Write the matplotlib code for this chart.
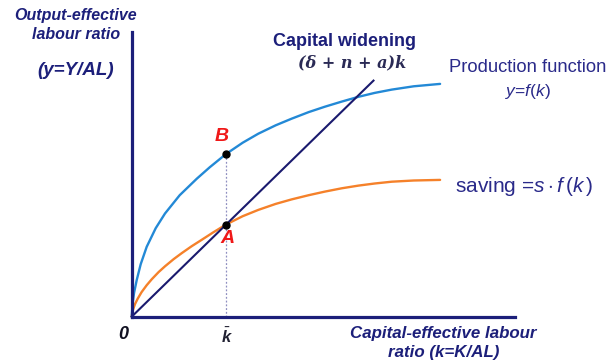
import matplotlib
matplotlib.use("Agg")
import matplotlib.pyplot as plt

plt.rcParams['mathtext.fontset'] = 'custom'
plt.rcParams['mathtext.rm'] = 'Liberation Sans'
plt.rcParams['mathtext.it'] = 'Liberation Sans:italic'
plt.rcParams['mathtext.bf'] = 'Liberation Sans:bold:italic'

# data (k = capital per effective worker)
prod_k = [0, 0.03, 0.08, 0.167, 0.3, 0.5, 0.8, 1.11, 1.6, 2.17, 2.6, 3.14, 3.7,
          4.22, 4.8, 5.33, 5.9, 6.44, 7.0, 7.56, 8.1, 8.67, 9.4, 10.28]
prod_vals = [0, 0.45, 0.8, 1.22, 1.75, 2.33, 2.95, 3.44, 4.05, 4.6, 4.98, 5.42, 5.8,
             6.1, 6.38, 6.6, 6.82, 7.0, 7.17, 7.33, 7.46, 7.57, 7.68, 7.76]
saving_k = [0, 0.03, 0.11, 0.2, 0.33, 0.5, 0.67, 0.9, 1.11, 1.4, 1.67, 2.0, 2.33, 2.7,
            3.14, 3.7, 4.22, 4.8, 5.33, 5.9, 6.44, 7.0, 7.56, 8.1, 8.67, 9.4, 10.28]
saving_vals = [0, 0.2, 0.42, 0.6, 0.82, 1.05, 1.25, 1.49, 1.68, 1.92, 2.12, 2.35, 2.56,
               2.8, 3.07, 3.35, 3.56, 3.76, 3.91, 4.05, 4.17, 4.28, 4.37, 4.44, 4.5,
               4.54, 4.56]
widen_k = [0, 8.06]
widen_y = [0, 7.87]
k_bar = 3.14
point_B = 5.42
point_A = 3.07
x_axis_end = 12.78
y_axis_end = 9.49

NAVY = '#1c1f7a'
BLUE = '#2389d6'
ORANGE = '#f5812a'
RED = '#f01818'

fig = plt.figure(figsize=(6.08, 3.64), dpi=100)
ax = fig.add_axes([0, 0, 1, 1])
ax.set_xlim(-131.7 / 30, (608 - 131.7) / 30)
ax.set_ylim(-(364 - 316.7) / 30, 316.7 / 30)

for s in ['top', 'right']:
    ax.spines[s].set_visible(False)
ax.spines['left'].set_position(('data', 0))
ax.spines['bottom'].set_position(('data', 0))
ax.spines['left'].set_bounds(0, y_axis_end)
ax.spines['bottom'].set_bounds(0, x_axis_end)
for s in ['left', 'bottom']:
    ax.spines[s].set_color(NAVY)
    ax.spines[s].set_linewidth(2.3)
ax.set_xticks([])
ax.set_yticks([])
ax.patch.set_alpha(0)

ax.plot(prod_k, prod_vals, color=BLUE, lw=1.7, solid_capstyle='round', solid_joinstyle='round')
ax.plot(saving_k, saving_vals, color=ORANGE, lw=1.7, solid_capstyle='round', solid_joinstyle='round')
ax.plot(widen_k, widen_y, color='#1a1a6e', lw=1.5)
ax.plot([k_bar, k_bar], [0, point_B], color='#8f8fc0', lw=0.9, ls=(0, (1.5, 1.5)))
ax.plot([k_bar, k_bar], [point_B, point_A], 'o', color='black', ms=5)

fs_b = dict(family='Liberation Sans', weight='bold', style='italic', color=NAVY)
ax.text(-1.86, 9.72, 'Output-effective\nlabour ratio', ha='center', va='center',
        fontsize=11.5, linespacing=1.4, **fs_b)
ax.text(-1.86, 8.2, '(y=Y/AL)', ha='center', va='center', fontsize=13.5, **fs_b)

ax.text(7.08, 9.17, 'Capital widening', ha='center', va='center', fontsize=13,
        family='Liberation Sans', weight='bold', color=NAVY)
ax.text(7.35, 8.45, '(δ + n + a)k', ha='center', va='center', fontsize=11.5,
        family='DejaVu Serif', weight='bold', style='italic', color='#2a2a55')

ax.text(13.2, 8.32, 'Production function', ha='center', va='center', fontsize=13.2,
        family='Liberation Sans', color='#2a2a8a')
ax.text(13.2, 7.52, r'$y$=$f$($k$)', ha='center', va='center', fontsize=12.5,
        family='Liberation Sans', color='#2a2a8a')

ax.text(10.78, 4.33, r'saving =$s\cdot f\,(k\,)$', ha='left', va='center', fontsize=15,
        family='Liberation Sans', color='#2a2a8a')

ax.text(3.0, 6.0, 'B', ha='center', va='center', fontsize=14,
        family='Liberation Sans', weight='bold', style='italic', color=RED)
ax.text(3.18, 2.6, 'A', ha='center', va='center', fontsize=14,
        family='Liberation Sans', weight='bold', style='italic', color=RED)

ax.text(-0.28, -0.6, '0', ha='center', va='center', fontsize=13,
        family='Liberation Sans', weight='bold', style='italic', color='#111122')
ax.text(k_bar + 0.02, -0.68, r'$\bar{\mathbf{k}}$', ha='center', va='center', fontsize=12,
        color='#222233')

ax.text(10.4, -0.88, 'Capital-effective labour\nratio (k=K/AL)', ha='center', va='center',
        fontsize=12.2, linespacing=1.3, **fs_b)

fig.savefig('out.png', dpi=100)
